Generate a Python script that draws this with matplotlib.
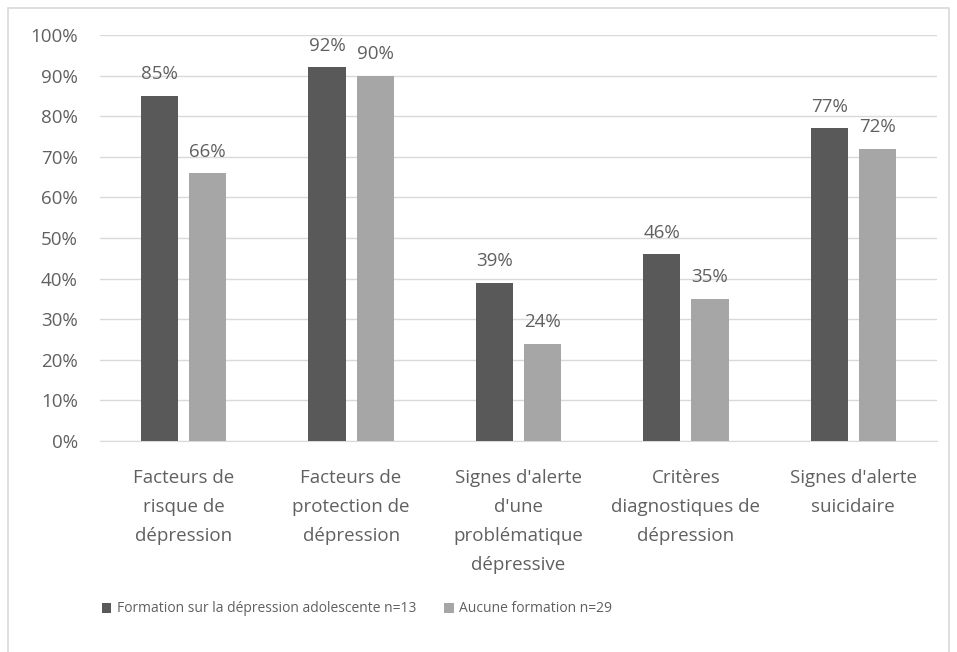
import matplotlib.pyplot as plt
import numpy as np
from matplotlib.patches import Rectangle

plt.rcParams['font.family'] = ['Open Sans', 'DejaVu Sans']

# données
categories = [
    "Facteurs de\nrisque de\ndépression",
    "Facteurs de\nprotection de\ndépression",
    "Signes d'alerte\nd'une\nproblématique\ndépressive",
    "Critères\ndiagnostiques de\ndépression",
    "Signes d'alerte\nsuicidaire",
]
formation = [85, 92, 39, 46, 77]
aucune = [66, 90, 24, 35, 72]
labels = ["Formation sur la dépression adolescente n=13", "Aucune formation n=29"]
yticks = [0, 10, 20, 30, 40, 50, 60, 70, 80, 90, 100]

dark = "#595959"
light = "#A6A6A6"
txt = "#606060"

fig = plt.figure(figsize=(9.57, 6.52), dpi=100)
# cadre extérieur
fig.patches.append(Rectangle((8/957, -0.01), 941/957, 1 - 8/652 + 0.01,
                             transform=fig.transFigure, fill=False,
                             edgecolor="#D9D9D9", lw=1.2))
ax = fig.add_axes([0.1045, 0.3236, 0.8746, 0.6227])

x = np.arange(len(categories))
w = 0.222
gap = 0.066
b1 = ax.bar(x - (w + gap) / 2, formation, w, color=dark, label=labels[0], zorder=3)
b2 = ax.bar(x + (w + gap) / 2, aucune, w, color=light, label=labels[1], zorder=3)

for bars in (b1, b2):
    for r in bars:
        ax.annotate(f"{int(r.get_height())}%",
                    (r.get_x() + r.get_width() / 2, r.get_height()),
                    xytext=(0, 9), textcoords="offset points",
                    ha="center", va="bottom", fontsize=13.5, color=txt)

ax.set_xlim(-0.5, len(categories) - 0.5)
ax.set_ylim(0, 100)
ax.set_yticks(yticks)
ax.set_yticklabels([f"{v}%" for v in yticks], fontsize=13.5, color=txt)
ax.set_xticks(x)
ax.set_xticklabels(categories, fontsize=13.5, color=txt, linespacing=1.8)
ax.tick_params(axis="both", length=0)
ax.tick_params(axis="y", pad=16)
ax.tick_params(axis="x", pad=20)
ax.grid(axis="y", color="#D9D9D9", lw=1, zorder=0)
for s in ["top", "right", "left"]:
    ax.spines[s].set_visible(False)
ax.spines["bottom"].set_color("#D9D9D9")

fig.legend(loc="center left", bbox_to_anchor=(89/957, 1 - 609/652), ncol=2,
           frameon=False, fontsize=10, labelcolor=txt,
           handlelength=0.7, handleheight=0.7, handletextpad=0.4,
           columnspacing=2.0)

fig.savefig("out.png", dpi=100)
